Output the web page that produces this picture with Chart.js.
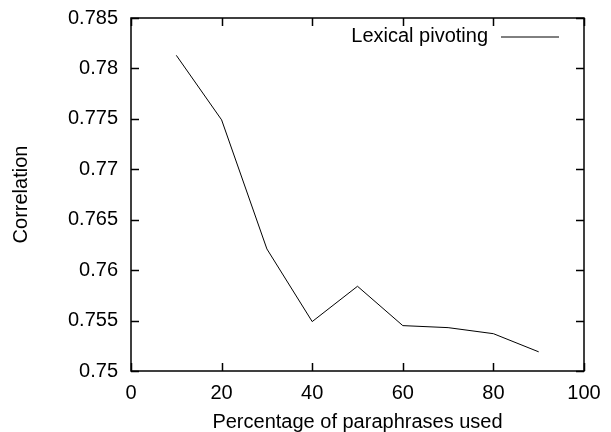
<!DOCTYPE html>
<html>
<head>
<meta charset="utf-8">
<script src="https://cdn.jsdelivr.net/npm/chart.js@4/dist/chart.umd.min.js"></script>
<style>
  html, body { margin: 0; padding: 0; background: #fff; }
  #wrap { width: 611px; height: 432px; }
</style>
</head>
<body>
<div id="wrap"><canvas id="corrChart"></canvas></div>
<script>
// values
const percentages = [10, 20, 30, 40, 50, 60, 70, 80, 90];
const correlation = [0.7813, 0.7749, 0.7621, 0.7549, 0.7584, 0.7545, 0.7543, 0.7537, 0.7519];
const seriesName = "Lexical pivoting";
const xTicks = [0, 20, 40, 60, 80, 100];
const yTicks = [0.75, 0.755, 0.76, 0.765, 0.77, 0.775, 0.78, 0.785];

const FONT = "'Liberation Sans', Arial, sans-serif";
const SIZE = 20;

// gnuplot style frame with inward ticks and the key at top right
const framePlugin = {
    id: "frame",
    afterDraw(chart) {
        const ctx = chart.ctx;
        const a = chart.chartArea;
        const xs = chart.scales.x, ys = chart.scales.y;
        const len = 8;
        ctx.save();
        ctx.strokeStyle = "#000";
        ctx.lineWidth = 1.5;
        ctx.strokeRect(a.left, a.top, a.right - a.left, a.bottom - a.top);
        ctx.beginPath();
        xTicks.forEach(v => {
            const px = Math.round(xs.getPixelForValue(v)) + 0.5;
            ctx.moveTo(px, a.bottom); ctx.lineTo(px, a.bottom - len);
            ctx.moveTo(px, a.top); ctx.lineTo(px, a.top + len);
        });
        yTicks.forEach(v => {
            const py = Math.round(ys.getPixelForValue(v)) + 0.5;
            ctx.moveTo(a.left, py); ctx.lineTo(a.left + len, py);
            ctx.moveTo(a.right, py); ctx.lineTo(a.right - len, py);
        });
        ctx.stroke();

        // key
        const ds = chart.data.datasets[0];
        ctx.fillStyle = "#000";
        ctx.font = SIZE + "px " + FONT;
        ctx.textAlign = "right";
        ctx.textBaseline = "middle";
        ctx.fillText(ds.label, a.right - 96, a.top + 18.5);
        ctx.beginPath();
        ctx.lineWidth = ds.borderWidth;
        ctx.strokeStyle = ds.borderColor;
        ctx.moveTo(a.right - 83, a.top + 19);
        ctx.lineTo(a.right - 25, a.top + 19);
        ctx.stroke();
        ctx.restore();
    }
};

const ctx = document.getElementById("corrChart").getContext("2d");
new Chart(ctx, {
    type: "line",
    data: {
        datasets: [{
            label: seriesName,
            data: percentages.map((p, i) => ({ x: p, y: correlation[i] })),
            borderColor: "#000",
            backgroundColor: "#000",
            borderWidth: 1,
            pointRadius: 0,
            tension: 0,
            fill: false
        }]
    },
    options: {
        responsive: true,
        maintainAspectRatio: false,
        animation: false,
        devicePixelRatio: 1,
        layout: { padding: { top: 18, right: 27, left: 0, bottom: 0 } },
        plugins: {
            tooltip: { enabled: false },
            legend: { display: false }
        },
        scales: {
            x: {
                type: "linear",
                min: 0,
                max: 100,
                afterBuildTicks: s => { s.ticks = xTicks.map(v => ({ value: v })); },
                afterFit: s => { s.height = 61; },
                grid: { display: false, drawTicks: false },
                border: { display: false },
                ticks: { color: "#000", padding: 10, font: { family: FONT, size: SIZE } },
                title: {
                    display: true,
                    text: "Percentage of paraphrases used",
                    color: "#000",
                    font: { family: FONT, size: SIZE, lineHeight: 1 },
                    padding: { top: 0, bottom: 0 }
                }
            },
            y: {
                min: 0.75,
                max: 0.785,
                afterBuildTicks: s => { s.ticks = yTicks.map(v => ({ value: v })); },
                afterFit: s => { s.width = 131; s.paddingTop = 0; s.paddingBottom = 0; },
                grid: { display: false, drawTicks: false },
                border: { display: false },
                ticks: {
                    color: "#000",
                    padding: 13,
                    font: { family: FONT, size: SIZE },
                    callback: v => String(Number(v.toFixed(3)))
                },
                title: {
                    display: true,
                    text: "Correlation",
                    color: "#000",
                    font: { family: FONT, size: SIZE, lineHeight: 1 },
                    padding: { top: 11, bottom: 0 }
                }
            }
        }
    },
    plugins: [framePlugin]
});
</script>
</body>
</html>
